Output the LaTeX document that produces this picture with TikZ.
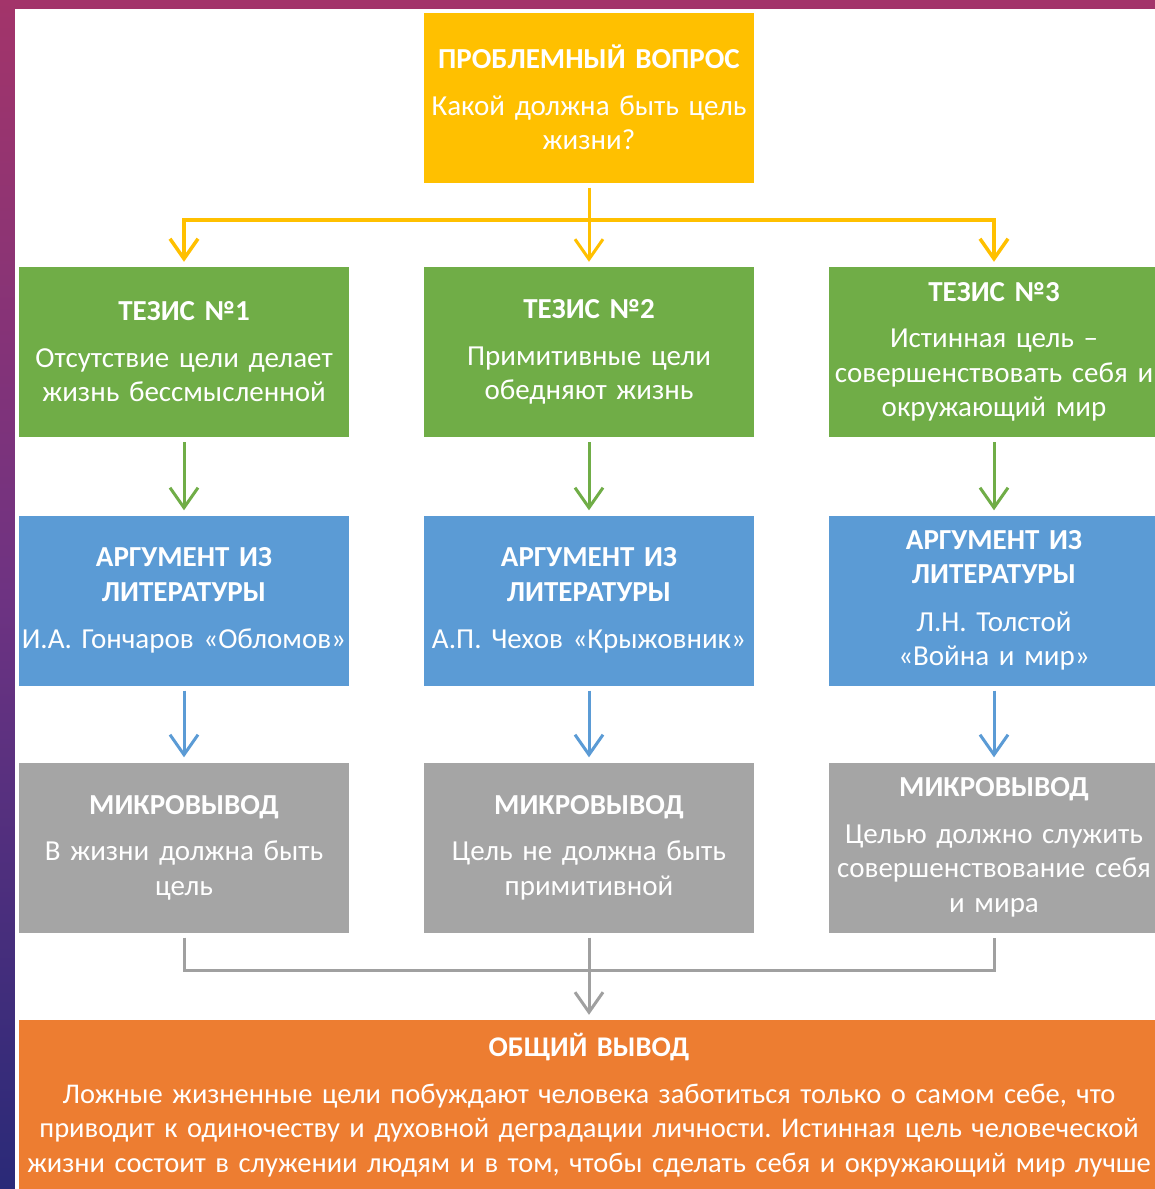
\documentclass[tikz,border=0pt]{standalone}
\usepackage{fontspec}
\setmainfont{Carlito}
\frenchspacing
\usetikzlibrary{arrows.meta}
\definecolor{cyel}{HTML}{FFC000}
\definecolor{cgreen}{HTML}{70AD47}
\definecolor{cblue}{HTML}{5B9BD5}
\definecolor{cgray}{HTML}{A5A5A5}
\definecolor{cgrayline}{HTML}{A0A0A0}
\definecolor{corange}{HTML}{ED7D31}
\definecolor{bgtop}{HTML}{A3346A}
\definecolor{bgmid}{HTML}{6E3382}
\definecolor{bgbot}{HTML}{2A2A78}
\begin{document}
\begin{tikzpicture}[x=1pt,y=-1pt,
  txt/.style={align=center, text=white, inner sep=0pt, font=\fontsize{29}{34.5}\selectfont},
  box/.style={txt, rectangle, minimum width=330pt, minimum height=170pt,
    text width=328pt},
  yelbox/.style={box, fill=cyel},
  greenbox/.style={box, fill=cgreen},
  bluebox/.style={box, fill=cblue},
  graybox/.style={box, fill=cgray},
  orangebox/.style={rectangle, inner sep=0pt, fill=corange, minimum width=1140pt, minimum height=170pt},
  tipV/.style={-{Straight Barb[length=20pt,width=28pt]}},
  yline/.style={draw=cyel, line width=3.5pt},
  gline/.style={draw=cgrayline, line width=3pt},
  arr/.style={line width=3pt, tipV, shorten >=5pt, shorten <=5pt},
]
\useasboundingbox (0,0) rectangle (1155,1189);
\clip (0,0) rectangle (1155,1189);
% background
\shade[top color=bgtop, bottom color=bgbot, middle color=bgmid] (0,0) rectangle (1155,1189);
\fill[white] (15,9) rectangle (1160,1195);

% nodes
\node[yelbox] (yel) at (589,97.5) {\textbf{ПРОБЛЕМНЫЙ ВОПРОС}\\[12pt]Какой должна быть цель\\жизни?};

\node[greenbox] (g1) at (184,352) {\textbf{ТЕЗИС №1}\\[12pt]Отсутствие цели делает\\жизнь бессмысленной};
\node[greenbox] (g2) at (589,352) {\textbf{ТЕЗИС №2}\\[12pt]Примитивные цели\\обедняют жизнь};
\node[greenbox] (g3) at (994,352) {\textbf{ТЕЗИС №3}\\[12pt]Истинная цель –\\совершенствовать себя и\\окружающий мир};

\node[bluebox] (b1) at (184,600.5) {\textbf{АРГУМЕНТ ИЗ}\\\textbf{ЛИТЕРАТУРЫ}\\[13pt]И.А. Гончаров «Обломов»};
\node[bluebox] (b2) at (589,600.5) {\textbf{АРГУМЕНТ ИЗ}\\\textbf{ЛИТЕРАТУРЫ}\\[13pt]А.П. Чехов «Крыжовник»};
\node[bluebox] (b3) at (994,600.5) {\textbf{АРГУМЕНТ ИЗ}\\\textbf{ЛИТЕРАТУРЫ}\\[13pt]Л.Н. Толстой\\«Война и мир»};

\node[graybox] (r1) at (184,847.5) {\textbf{МИКРОВЫВОД}\\[12pt]В жизни должна быть\\цель};
\node[graybox] (r2) at (589,847.5) {\textbf{МИКРОВЫВОД}\\[12pt]Цель не должна быть\\примитивной};
\node[graybox] (r3) at (994,847.5) {\textbf{МИКРОВЫВОД}\\[12pt]Целью должно служить\\совершенствование себя\\и мира};

\node[orangebox] (ob) at (589,1105) {};
\node[txt, text width=1200pt, font=\fontsize{28.5}{34.5}\selectfont] (obtext) at (ob.center) {\textbf{ОБЩИЙ ВЫВОД}\\[12pt]Ложные жизненные цели побуждают человека заботиться только о самом себе, что\\приводит к одиночеству и духовной деградации личности. Истинная цель человеческой\\жизни состоит в служении людям и в том, чтобы сделать себя и окружающий мир лучше};

% yellow connectors
\coordinate (ysplit) at (589,220);
\draw[yline] (g1.north |- ysplit) -- (g3.north |- ysplit);
\draw[yline, arr] (yel.south) -- (g2.north);
\draw[yline, tipV, shorten >=5pt] (ysplit) -| (g1.north);
\draw[yline, tipV, shorten >=5pt] (ysplit) -| (g3.north);

% green connectors
\foreach \a/\b in {g1/b1, g2/b2, g3/b3} {
  \draw[draw=cgreen, arr] (\a.south) -- (\b.north);
}
% blue connectors
\foreach \a/\b in {b1/r1, b2/r2, b3/r3} {
  \draw[draw=cblue, arr] (\a.south) -- (\b.north);
}
% gray connectors
\coordinate (gsplit) at (589,970);
\draw[gline, shorten <=5pt, shorten >=5pt] (r1.south) |- (gsplit) -| (r3.south);
\draw[draw=cgrayline, arr] (r2.south) -- (ob.north);
\end{tikzpicture}
\end{document}
